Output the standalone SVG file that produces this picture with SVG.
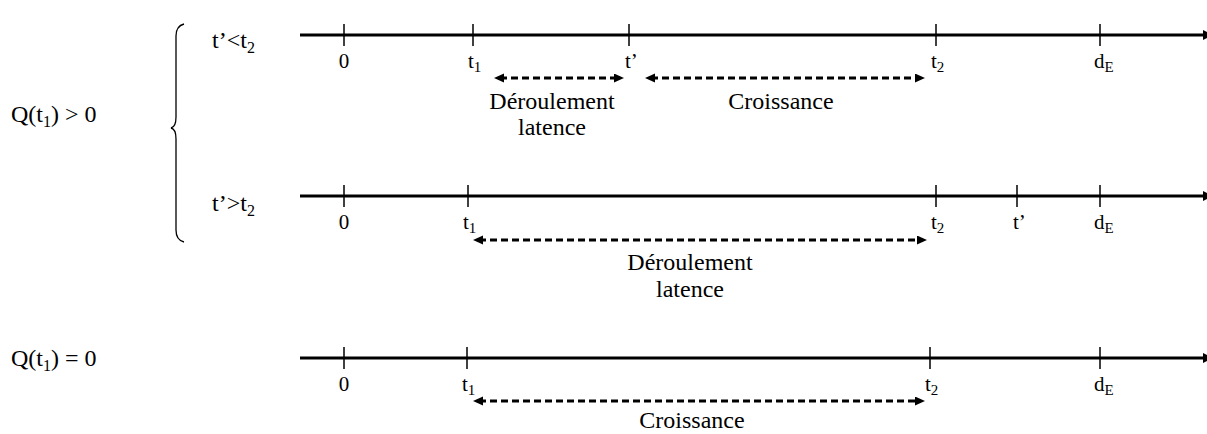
<svg xmlns="http://www.w3.org/2000/svg" width="1207" height="434" viewBox="0 0 1207 434" font-family="'Liberation Serif', 'Times New Roman', serif">
<defs>
<marker id="ah" markerUnits="userSpaceOnUse" markerWidth="12" markerHeight="10" refX="4" refY="4.5" orient="auto-start-reverse" viewBox="0 0 12 10">
<path d="M0,0 L10,4.5 L0,9 z" fill="#000"/>
</marker>
<style>
text{font-family:'Liberation Serif','Times New Roman',serif;fill:#000}
.big{font-size:24px}
.axis{stroke:#000;stroke-width:3;fill:none}
.tick{stroke:#000;stroke-width:1.5}
.dash{stroke:#000;stroke-width:3;stroke-dasharray:7 4;fill:none;marker-start:url(#ah);marker-end:url(#ah)}
.mid{text-anchor:middle}
</style>
</defs>
<rect width="1207" height="434" fill="#fff"/>

<g id="conditions">
<text class="big" x="11" y="122">Q(t<tspan dy="5" font-size="16">1</tspan><tspan dy="-5">) &gt; 0</tspan></text>
<text class="big" x="11" y="366">Q(t<tspan dy="5" font-size="16">1</tspan><tspan dy="-5">) = 0</tspan></text>
<path d="M184,24 Q176,26 176,36 L176,117 Q176,127 171,128 Q176,129 176,139 L176,230 Q176,240 184,242" fill="none" stroke="#000" stroke-width="1.3"/>
<text class="big" x="212" y="48">t’&lt;t<tspan dy="5" font-size="16">2</tspan></text>
<text class="big" x="212" y="211">t’&gt;t<tspan dy="5" font-size="16">2</tspan></text>
</g>

<g id="axis1" font-size="21">
<line class="axis" x1="300" y1="35" x2="1204" y2="35"/>
<polygon points="1203,30 1213,35 1203,40" fill="#000"/>
<line class="tick" x1="344" y1="24" x2="344" y2="46"/>
<line class="tick" x1="473" y1="24" x2="473" y2="46"/>
<line class="tick" x1="629" y1="24" x2="629" y2="46"/>
<line class="tick" x1="936" y1="24" x2="936" y2="46"/>
<line class="tick" x1="1100" y1="24" x2="1100" y2="46"/>
<text class="mid" x="344" y="68">0</text>
<text x="468" y="68">t<tspan font-size="15" dy="4">1</tspan></text>
<text x="625" y="68">t’</text>
<text x="931" y="68">t<tspan font-size="15" dy="4">2</tspan></text>
<text x="1094" y="68">d<tspan font-size="15" dy="4">E</tspan></text>
</g>

<g id="axis2" font-size="21">
<line class="axis" x1="300" y1="196" x2="1204" y2="196"/>
<polygon points="1203,191 1213,196 1203,201" fill="#000"/>
<line class="tick" x1="344" y1="185" x2="344" y2="207"/>
<line class="tick" x1="468" y1="185" x2="468" y2="207"/>
<line class="tick" x1="936" y1="185" x2="936" y2="207"/>
<line class="tick" x1="1017" y1="185" x2="1017" y2="207"/>
<line class="tick" x1="1100" y1="185" x2="1100" y2="207"/>
<text class="mid" x="344" y="229">0</text>
<text x="463" y="229">t<tspan font-size="15" dy="4">1</tspan></text>
<text x="931" y="229">t<tspan font-size="15" dy="4">2</tspan></text>
<text x="1013" y="229">t’</text>
<text x="1094" y="229">d<tspan font-size="15" dy="4">E</tspan></text>
</g>

<g id="axis3" font-size="21">
<line class="axis" x1="300" y1="358" x2="1204" y2="358"/>
<polygon points="1203,353 1213,358 1203,363" fill="#000"/>
<line class="tick" x1="344" y1="347" x2="344" y2="369"/>
<line class="tick" x1="467" y1="347" x2="467" y2="369"/>
<line class="tick" x1="930" y1="347" x2="930" y2="369"/>
<line class="tick" x1="1100" y1="347" x2="1100" y2="369"/>
<text class="mid" x="344" y="391">0</text>
<text x="462" y="391">t<tspan font-size="15" dy="4">1</tspan></text>
<text x="925" y="391">t<tspan font-size="15" dy="4">2</tspan></text>
<text x="1094" y="391">d<tspan font-size="15" dy="4">E</tspan></text>
</g>

<g id="connectors">
<line class="dash" x1="500" y1="78" x2="618" y2="78"/>
<line class="dash" x1="651" y1="78" x2="919" y2="78"/>
<line class="dash" x1="479" y1="240" x2="921" y2="240"/>
<line class="dash" x1="479" y1="401" x2="919" y2="401"/>
</g>

<g id="labels">
<text class="big mid" x="552" y="109">Déroulement</text>
<text class="big mid" x="552" y="135">latence</text>
<text class="big mid" x="781" y="109">Croissance</text>
<text class="big mid" x="690" y="270">Déroulement</text>
<text class="big mid" x="690" y="297">latence</text>
<text class="big mid" x="692" y="428">Croissance</text>
</g>
</svg>
